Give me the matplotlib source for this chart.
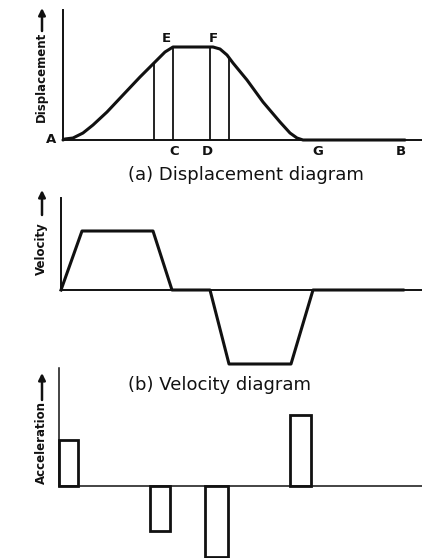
import matplotlib
matplotlib.use("Agg")
import matplotlib.pyplot as plt
import numpy as np

# ---------------- data (arbitrary units) ----------------
# (a) displacement curve
disp_t = [0, 2, 10, 20, 30, 44, 60, 77, 87, 94, 102, 110, 115, 150, 157, 164, 170,
          184, 200, 217, 227, 234, 240, 257, 342]
disp_s = [0, 1, 2, 7, 15, 28, 45, 63, 73, 80, 88, 93, 93, 93, 91, 85, 77,
          60, 38, 18, 7, 2, 0, 0, 0]
disp_marks_t = [91, 110, 147, 166]          # vertical construction lines

# (b) velocity diagram
vel_t = [0, 21, 92, 111, 149, 168, 230, 252, 342]
vel_v = [0, 59, 59, 0, 0, -74, -74, 0, 0]

# (c) acceleration diagram
acc_start = [0, 91, 146, 231]
acc_width = [19, 20, 23, 21]
acc_value = [46, -45, -71, 71]

# point labels
pt_names = ["A", "E", "F", "C", "D", "G", "B"]
pt_t = [-12, 103, 150, 111, 144, 255, 338]
pt_s = [0, 102, 102, -12, -12, -12, -12]

# ---------------- figure ----------------
W, H = 422, 558
fig = plt.figure(figsize=(W / 100, H / 100), dpi=100)
fig.patch.set_facecolor("white")
INK = "#111111"


def fx(px):
    return px / W


def fy(py):
    return 1 - py / H


def panel(left_px, zero_py, top_val, bottom_val, spine_lw):
    bottom_py = zero_py - bottom_val
    top_py = zero_py - top_val
    ax = fig.add_axes([fx(left_px), fy(bottom_py), fx(W - left_px), (bottom_py - top_py) / H])
    ax.set_xlim(0, W - left_px)
    ax.set_ylim(bottom_val, top_val)
    for s in ("top", "right"):
        ax.spines[s].set_visible(False)
    ax.spines["left"].set_bounds(0, top_val)
    ax.spines["left"].set_linewidth(spine_lw)
    ax.spines["bottom"].set_position(("data", 0))
    ax.spines["bottom"].set_linewidth(spine_lw)
    for s in ("left", "bottom"):
        ax.spines[s].set_color(INK)
    ax.set_xticks([])
    ax.set_yticks([])
    ax.patch.set_alpha(0)
    return ax


# (a) displacement
axa = panel(63, 140, 130, 0, 1.4)
axa.plot(disp_t, disp_s, color=INK, lw=2.2, clip_on=False, solid_capstyle="round")
tops = np.interp(disp_marks_t, disp_t, disp_s)
axa.vlines(disp_marks_t, 0, tops, color=INK, lw=1.3)
for n, t, s in zip(pt_names, pt_t, pt_s):
    axa.text(t, s, n, ha="center", va="center", fontsize=9.5, fontweight="bold",
             color=INK, clip_on=False)

# (b) velocity
axb = panel(61, 290, 92, -80, 1.4)
axb.plot(vel_t, vel_v, color=INK, lw=2.2, clip_on=False)

# (c) acceleration
axc = panel(59, 486, 118, -72, 1.1)
axc.bar(acc_start, acc_value, width=acc_width, align="edge", fill=False,
        edgecolor=INK, linewidth=2.0, clip_on=False)

# titles
fig.text(fx(128), fy(175), "(a) Displacement diagram", fontsize=13, color=INK,
         ha="left", va="center")
fig.text(fx(128), fy(385), "(b) Velocity diagram", fontsize=13, color=INK,
         ha="left", va="center")

# y labels with arrows
for label, cy, a0, a1 in [("Displacement", 77, 31, 8),
                          ("Velocity", 249, 215, 190),
                          ("Acceleration", 443, 400, 373)]:
    fig.text(fx(41), fy(cy), label, rotation=90, fontsize=8.5, fontweight="bold",
             color=INK, ha="center", va="center")
    fig.add_artist(matplotlib.patches.FancyArrowPatch(
        (fx(42), fy(a0)), (fx(42), fy(a1)), transform=fig.transFigure,
        arrowstyle="-|>,head_length=4,head_width=2", color=INK, lw=1.8,
        mutation_scale=1, shrinkA=0, shrinkB=0))

fig.savefig("out.png", dpi=100, facecolor="white")
